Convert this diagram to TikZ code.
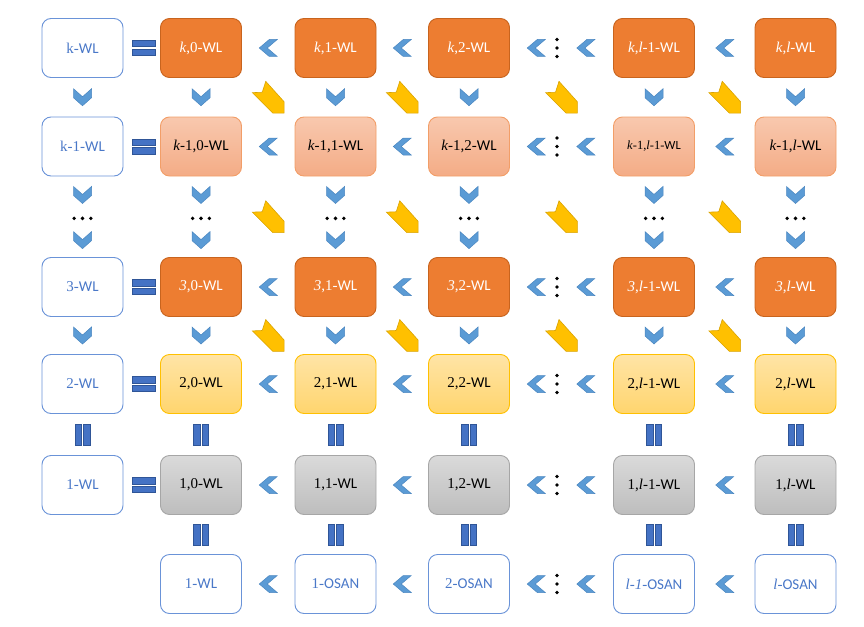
\documentclass[tikz,border=0pt]{standalone}
\usepackage{fontspec}
\setmainfont{Liberation Serif}
\newfontfamily\calfont[Scale=1.0]{Carlito}
\usetikzlibrary{calc}
\definecolor{wblue}{HTML}{6A93D8}
\definecolor{tblue}{HTML}{4A78C8}
\definecolor{orangeF}{HTML}{ED7D31}
\definecolor{orangeD}{HTML}{C8641E}
\definecolor{salT}{HTML}{F8C8AE}
\definecolor{salB}{HTML}{F4AC86}
\definecolor{salD}{HTML}{F29E68}
\definecolor{yelT}{HTML}{FFE4A6}
\definecolor{yelB}{HTML}{FFD56E}
\definecolor{yelD}{HTML}{FFC000}
\definecolor{greT}{HTML}{DADADA}
\definecolor{greB}{HTML}{BDBDBD}
\definecolor{greD}{HTML}{A6A6A6}
\definecolor{chevF}{HTML}{5B9BD5}
\definecolor{chevD}{HTML}{4A86C0}
\definecolor{eqF}{HTML}{4472C4}
\definecolor{eqD}{HTML}{2F5597}
\definecolor{yarF}{HTML}{FFC000}
\definecolor{yarD}{HTML}{D9A300}
\newcommand{\WL}{{\calfont WL}}
\newcommand{\OSAN}{{\calfont OSAN}}
\begin{document}
\begin{tikzpicture}[x=1pt,y=-1pt,
  box/.style={rounded corners=9, minimum width=81, minimum height=59, line width=0.9, inner sep=0, align=center, font=\fontsize{15}{17}\selectfont},
  wbox/.style={box, draw=wblue, fill=white, text=tblue},
  obox/.style={box, draw=orangeD, fill=orangeF, text=white},
  sbox/.style={box, draw=salD, top color=salT, bottom color=salB, text=black},
  ybox/.style={box, draw=yelD, top color=yelT, bottom color=yelB, text=black},
  gbox/.style={box, draw=greD, top color=greT, bottom color=greB, text=black},
  chevstyle/.style={fill=chevF, draw=chevD, line width=0.5},
  eqstyle/.style={fill=eqF, draw=eqD, line width=0.6},
  ystyle/.style={fill=yarF, draw=yarD, line width=0.6, line join=miter},
  pics/lchev/.style={code={\filldraw[chevstyle] (-9,0) -- (1,-8.5) -- (9,-8.5) -- (-1,0) -- (9,8.5) -- (1,8.5) -- cycle;}},
  pics/dchev/.style={code={\filldraw[chevstyle] (-9,-8.5) -- (0,-0.5) -- (9,-8.5) -- (9,0.5) -- (0,8.5) -- (-9,0.5) -- cycle;}},
  pics/yarrow/.style={code={\filldraw[ystyle] (-15.9,-4.6) -- (4.6,15.9) -- (15.9,15.9) -- (15.9,4.6) -- (-2.5,-15.9) -- (-6,-5) -- cycle;}},
  pics/eqsign/.style={code={\filldraw[eqstyle] (-11.5,-7.5) rectangle (11.5,-1.2); \filldraw[eqstyle] (-11.5,1.2) rectangle (11.5,7.5);}},
  pics/pll/.style={code={\filldraw[eqstyle] (-7.5,-10.5) rectangle (-1.2,10.5); \filldraw[eqstyle] (1.2,-10.5) rectangle (7.5,10.5);}},
  pics/vdotsp/.style={code={\fill (0,-8.5) circle (1.9pt); \fill (0,0) circle (1.9pt); \fill (0,8.5) circle (1.9pt);}},
  pics/hdotsp/.style={code={\fill (-8.3,0) circle (1.9pt); \fill (0,0) circle (1.9pt); \fill (8.3,0) circle (1.9pt);}}
]
\useasboundingbox (0,0) rectangle (864,626);
% row k
\node[wbox] (kL) at (82.5,48) {k-\WL};
\node[obox] (k0) at (201,48) {\textit{k},0-\WL};
\node[obox] (k1) at (335.5,48) {\textit{k},1-\WL};
\node[obox] (k2) at (469,48) {\textit{k},2-\WL};
\node[obox] (k3) at (654,48) {\textit{k},\textit{l}-1-\WL};
\node[obox] (k4) at (795.5,48) {\textit{k},\textit{l}-\WL};
% row k-1
\node[wbox] (mL) at (82.5,146.5) {k-1-\WL};
\node[sbox] (m0) at (201,146.5) {\textit{k}-1,0-\WL};
\node[sbox] (m1) at (335.5,146.5) {\textit{k}-1,1-\WL};
\node[sbox] (m2) at (469,146.5) {\textit{k}-1,2-\WL};
\node[sbox, font=\fontsize{12.5}{14}\selectfont] (m3) at (654,146.5) {\textit{k}-1,\textit{l}-1-\WL};
\node[sbox] (m4) at (795.5,146.5) {\textit{k}-1,\textit{l}-\WL};
% row 3
\node[wbox] (tL) at (82.5,287) {3-\WL};
\node[obox] (t0) at (201,287) {\textit{3},0-\WL};
\node[obox] (t1) at (335.5,287) {\textit{3},1-\WL};
\node[obox] (t2) at (469,287) {\textit{3},2-\WL};
\node[obox] (t3) at (654,287) {\textit{3},\textit{l}-1-\WL};
\node[obox] (t4) at (795.5,287) {\textit{3},\textit{l}-\WL};
% row 2
\node[wbox] (bL) at (82.5,384) {2-\WL};
\node[ybox] (b0) at (201,384) {2,0-\WL};
\node[ybox] (b1) at (335.5,384) {2,1-\WL};
\node[ybox] (b2) at (469,384) {2,2-\WL};
\node[ybox] (b3) at (654,384) {2,\textit{l}-1-\WL};
\node[ybox] (b4) at (795.5,384) {2,\textit{l}-\WL};
% row 1
\node[wbox] (aL) at (82.5,485) {1-\WL};
\node[gbox] (a0) at (201,485) {1,0-\WL};
\node[gbox] (a1) at (335.5,485) {1,1-\WL};
\node[gbox] (a2) at (469,485) {1,2-\WL};
\node[gbox] (a3) at (654,485) {1,\textit{l}-1-\WL};
\node[gbox] (a4) at (795.5,485) {1,\textit{l}-\WL};
% row OSAN
\node[wbox] (o0) at (201,584) {1-\WL};
\node[wbox] (o1) at (335.5,584) {1-\OSAN};
\node[wbox] (o2) at (469,584) {2-\OSAN};
\node[wbox] (o3) at (654,584) {\textit{l-1}-\OSAN};
\node[wbox] (o4) at (795.5,584) {\textit{l}-\OSAN};
% equals signs
\foreach \R in {k,m,t,b,a}{
  \pic at ($(\R L.east)!0.55!(\R 0.west)$) {eqsign};
}
% left chevrons
\foreach \R in {k,m,t,b,a,o}{
  \pic at ($(\R 0.east)!0.5!(\R 1.west)$) {lchev};
  \pic at ($(\R 1.east)!0.5!(\R 2.west)$) {lchev};
  \pic at ($(\R 2.east)!0.255!(\R 3.west)$) {lchev};
  \pic at ($(\R 2.east)!0.457!(\R 3.west)$) {vdotsp};
  \pic at ($(\R 2.east)!0.736!(\R 3.west)$) {lchev};
  \pic at ($(\R 3.east)!0.5!(\R 4.west)$) {lchev};
}
% vertical connectors
\foreach \C in {L,0,1,2,3,4}{
  \pic at ($(k\C.south)!0.5!(m\C.north)$) {dchev};
  \pic at ($(m\C.south)!0.23!(t\C.north)$) {dchev};
  \pic at ($(m\C.south)!0.52!(t\C.north)$) {hdotsp};
  \pic at ($(m\C.south)!0.79!(t\C.north)$) {dchev};
  \pic at ($(t\C.south)!0.5!(b\C.north)$) {dchev};
  \pic at ($(b\C.south)!0.5!(a\C.north)$) {pll};
}
\foreach \C in {0,1,2,3,4}{
  \pic at ($(a\C.south)!0.5!(o\C.north)$) {pll};
}
% yellow diagonal arrows
\foreach \R/\S in {k/m,m/t,t/b}{
  \foreach \C/\D in {0/1,1/2,2/3,3/4}{
    \pic at ($(\R\C)!0.5!(\S\D)$) {yarrow};
  }
}
\end{tikzpicture}
\end{document}
